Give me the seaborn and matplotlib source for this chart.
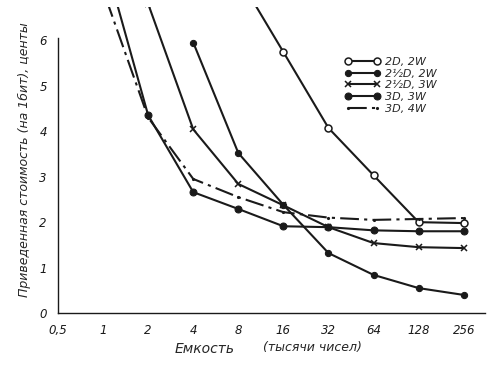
import numpy as np
import pandas as pd
import seaborn as sns
import matplotlib
matplotlib.use("Agg")
import matplotlib.pyplot as plt

# capacity, thousands of numbers (log2 axis)
tick_vals = [0.5, 1, 2, 4, 8, 16, 32, 64, 128, 256]
tick_labels = ["0,5", "1", "2", "4", "8", "16", "32", "64", "128", "256"]

# series (cost per bit, cents)
x_2d2w = [8, 16, 32, 64, 128, 256]
y_2d2w = [7.4, 5.74, 4.07, 3.03, 2.0, 1.98]

x_25d2w = [4, 8, 16, 32, 64, 128, 256]
y_25d2w = [5.95, 3.52, 2.38, 1.32, 0.84, 0.55, 0.40]

x_25d3w = [2, 4, 8, 16, 32, 64, 128, 256]
y_25d3w = [6.8, 4.04, 2.84, 2.37, 1.89, 1.54, 1.45, 1.43]

x_3d3w = [1, 2, 4, 8, 16, 32, 64, 128, 256]
y_3d3w = [7.9, 4.35, 2.66, 2.29, 1.91, 1.89, 1.82, 1.80, 1.80]

x_3d4w = [1, 2, 4, 8, 16, 32, 64, 128, 256]
y_3d4w = [7.1, 4.3, 2.95, 2.55, 2.22, 2.1, 2.05, 2.07, 2.09]

sns.set_theme(style="white")
plt.rcParams['font.family'] = ['DejaVu Sans']
plt.rcParams['font.style'] = 'italic'

fig = plt.figure(figsize=(5, 3.71), dpi=100)
ax = fig.add_axes([0.116, 0.156, 0.854, 0.825])

lw = 1.5
sns.lineplot(x=x_2d2w, y=y_2d2w, ax=ax, color='k', lw=lw, marker='o', markersize=5,
             markerfacecolor='white', markeredgecolor='k', markeredgewidth=1.1, label='2D, 2W')
sns.lineplot(x=x_25d2w, y=y_25d2w, ax=ax, color='k', lw=lw, marker='o', markersize=4.5,
             markerfacecolor='k', markeredgecolor='k', label='2½D, 2W')
sns.lineplot(x=x_25d3w, y=y_25d3w, ax=ax, color='k', lw=lw, marker='x', markersize=4.5,
             markeredgecolor='k', markeredgewidth=1.1, label='2½D, 3W')
sns.lineplot(x=x_3d3w, y=y_3d3w, ax=ax, color='k', lw=lw, marker='o', markersize=5,
             markerfacecolor='k', markeredgecolor='k', label='3D, 3W')
sns.lineplot(x=x_3d4w, y=y_3d4w, ax=ax, color='k', lw=lw, marker='.', markersize=3,
             markerfacecolor='k', markeredgecolor='k',
             linestyle=(0, (9, 2.5, 1.5, 2.5)), label='3D, 4W')

ax.set_xscale('log', base=2)
ax.set_xlim(0.5, 355)
ax.set_ylim(0, 6.73)
ax.set_xticks(tick_vals)
ax.set_xticklabels(tick_labels)
ax.xaxis.set_minor_locator(matplotlib.ticker.NullLocator())
ax.set_yticks(range(7))

for s in ['top', 'right']:
    ax.spines[s].set_visible(False)
ax.spines['left'].set_bounds(0, 6.05)
for s in ['left', 'bottom']:
    ax.spines[s].set_color('k')
    ax.spines[s].set_linewidth(1.0)

ax.tick_params(axis='both', direction='in', length=4, width=1, colors='k', labelsize=8.5)
ax.tick_params(axis='x', pad=8)
ax.tick_params(axis='y', pad=8)

ax.set_ylabel('Приведенная стоимость (на 1бит), центы', fontsize=9, labelpad=6)
fig.text(205 / 500, 1 - 349 / 371, 'Емкость', fontsize=10, ha='center', va='center')
fig.text(312 / 500, 1 - 348 / 371, '(тысячи чисел)', fontsize=9, ha='center', va='center')

ax.legend(loc='upper right', bbox_to_anchor=(0.91, 0.87), frameon=False, numpoints=2,
          handlelength=3.2, fontsize=8, labelspacing=0.15, handletextpad=0.4)

plt.savefig('out.png', dpi=100)
